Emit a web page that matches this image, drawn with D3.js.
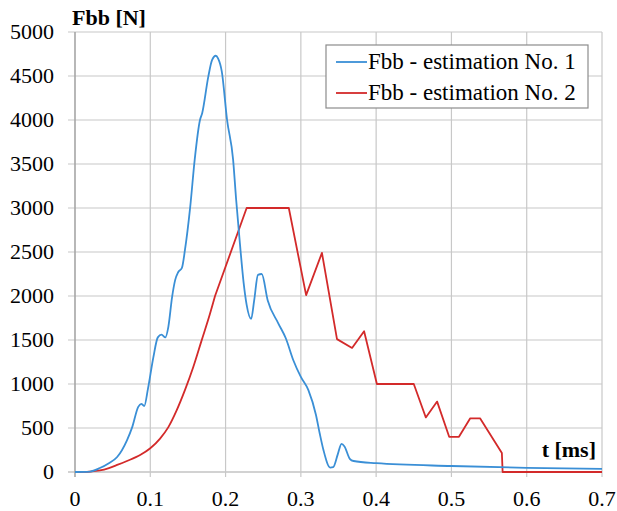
<!DOCTYPE html>
<html>
<head>
<meta charset="utf-8">
<script src="https://cdn.jsdelivr.net/npm/d3@7"></script>
<style>
  body { margin: 0; background: #fff; }
  text { font-family: "Liberation Serif", "Times New Roman", serif; }
</style>
</head>
<body>
<div id="chart"></div>
<script>
// Data
const seriesNames = ["Fbb - estimation No. 1", "Fbb - estimation No. 2"];
const seriesColors = ["#3a8fd6", "#d32a2a"];

const est1T = [0, 0.02, 0.033, 0.045, 0.056, 0.069, 0.076, 0.084, 0.088, 0.092, 0.097, 0.104, 0.11, 0.115, 0.12, 0.124,
  0.129, 0.133, 0.137, 0.142, 0.146, 0.153, 0.159, 0.166, 0.169, 0.177, 0.182, 0.187, 0.19, 0.195, 0.202, 0.21, 0.214,
  0.219, 0.224, 0.228, 0.234, 0.238, 0.243, 0.248, 0.256, 0.27, 0.28, 0.29, 0.3, 0.31, 0.32, 0.325, 0.33, 0.339,
  0.343, 0.349, 0.354, 0.358, 0.365, 0.37, 0.4, 0.5, 0.6, 0.7];
const est1F = [0, 5, 45, 100, 170, 360, 510, 740, 775, 750, 950, 1300, 1530, 1560, 1530, 1650,
  1990, 2180, 2270, 2320, 2520, 3010, 3550, 4000, 4080, 4490, 4680, 4730, 4700, 4550, 4000, 3550, 3100,
  2600, 2150, 1900, 1740, 1950, 2240, 2250, 1950, 1690, 1520, 1270, 1080, 930, 650, 440, 250, 50,
  55, 200, 320, 290, 150, 125, 100, 68, 48, 35];

// smooth rise of estimation No. 2
const est2RiseT = [0, 0.01, 0.02, 0.033, 0.045, 0.056, 0.069, 0.0865, 0.1, 0.113, 0.124, 0.135, 0.146, 0.157,
  0.168, 0.179, 0.186];
const est2RiseF = [0, 1, 5, 18, 45, 80, 125, 193, 270, 380, 510, 700, 930, 1190,
  1490, 1790, 2000];
// piecewise-linear rest of estimation No. 2
const est2T = [0.186, 0.228, 0.284, 0.307, 0.328, 0.348, 0.368, 0.384, 0.401, 0.45, 0.466, 0.481, 0.497, 0.51,
  0.525, 0.538, 0.567, 0.568, 0.7];
const est2F = [2000, 3000, 3000, 2010, 2490, 1510, 1410, 1600, 1000, 1000, 620, 800, 400, 400,
  610, 610, 215, 0, 0];

const xTicks = [0, 0.1, 0.2, 0.3, 0.4, 0.5, 0.6, 0.7];
const yTicks = [0, 500, 1000, 1500, 2000, 2500, 3000, 3500, 4000, 4500, 5000];

const width = 617;
const height = 511;
const plotLeft = 75, plotRight = 602, plotTop = 32, plotBottom = 472;

const svg = d3.select("#chart").append("svg")
  .attr("width", width)
  .attr("height", height);

const x = d3.scaleLinear().domain([0, 0.7]).range([plotLeft, plotRight]);
const y = d3.scaleLinear().domain([0, 5000]).range([plotBottom, plotTop]);

// Grid
svg.append("g")
  .selectAll("line")
  .data(yTicks)
  .enter()
  .append("line")
  .attr("x1", plotLeft - 7)
  .attr("x2", plotRight)
  .attr("y1", d => y(d))
  .attr("y2", d => y(d))
  .attr("stroke", d => d === 0 ? "#a6a6a6" : "#c8c8c8")
  .attr("stroke-width", 1.2);

svg.append("g")
  .selectAll("line")
  .data(xTicks)
  .enter()
  .append("line")
  .attr("x1", d => x(d))
  .attr("x2", d => x(d))
  .attr("y1", plotTop)
  .attr("y2", plotBottom + 5)
  .attr("stroke", d => d === 0 ? "#a6a6a6" : "#c8c8c8")
  .attr("stroke-width", d => d === 0 ? 1.6 : 1.2);

// Tick labels
svg.append("g")
  .selectAll("text")
  .data(yTicks)
  .enter()
  .append("text")
  .attr("x", 54)
  .attr("y", d => y(d) + 7)
  .attr("text-anchor", "end")
  .style("font-size", "22px")
  .text(d => d);

svg.append("g")
  .selectAll("text")
  .data(xTicks)
  .enter()
  .append("text")
  .attr("x", d => x(d))
  .attr("y", 506)
  .attr("text-anchor", "middle")
  .style("font-size", "22px")
  .text(d => d);

// Axis titles
svg.append("text")
  .attr("x", 72)
  .attr("y", 25)
  .style("font-size", "22px")
  .style("font-weight", "bold")
  .text("Fbb [N]");

svg.append("text")
  .attr("x", 596)
  .attr("y", 457)
  .attr("text-anchor", "end")
  .style("font-size", "22px")
  .style("font-weight", "bold")
  .text("t [ms]");

// Lines
const lineSmooth = d3.line()
  .x(d => x(d[0]))
  .y(d => y(d[1]))
  .curve(d3.curveMonotoneX);

const lineSharp = d3.line()
  .x(d => x(d[0]))
  .y(d => y(d[1]));

svg.append("path")
  .attr("fill", "none")
  .attr("stroke", seriesColors[1])
  .attr("stroke-width", 1.8)
  .attr("stroke-linejoin", "round")
  .attr("d", lineSmooth(d3.zip(est2RiseT, est2RiseF)) + lineSharp(d3.zip(est2T, est2F)).replace(/^M/, "L"));

svg.append("path")
  .datum(d3.zip(est1T, est1F))
  .attr("fill", "none")
  .attr("stroke", seriesColors[0])
  .attr("stroke-width", 1.8)
  .attr("stroke-linejoin", "round")
  .attr("d", lineSmooth);

// Legend
const legend = svg.append("g")
  .attr("class", "legend")
  .attr("transform", "translate(326,45)");

legend.append("rect")
  .attr("width", 262)
  .attr("height", 63)
  .attr("fill", "#fff")
  .attr("stroke", "#8c8c8c")
  .attr("stroke-width", 1.2);

seriesNames.forEach(function (name, i) {
  legend.append("line")
    .attr("x1", 10)
    .attr("x2", 41)
    .attr("y1", 17 + i * 31)
    .attr("y2", 17 + i * 31)
    .attr("stroke", seriesColors[i])
    .attr("stroke-width", 1.8);
  legend.append("text")
    .attr("x", 42)
    .attr("y", 24 + i * 31)
    .style("font-size", "23px")
    .text(name);
});
</script>
</body>
</html>
